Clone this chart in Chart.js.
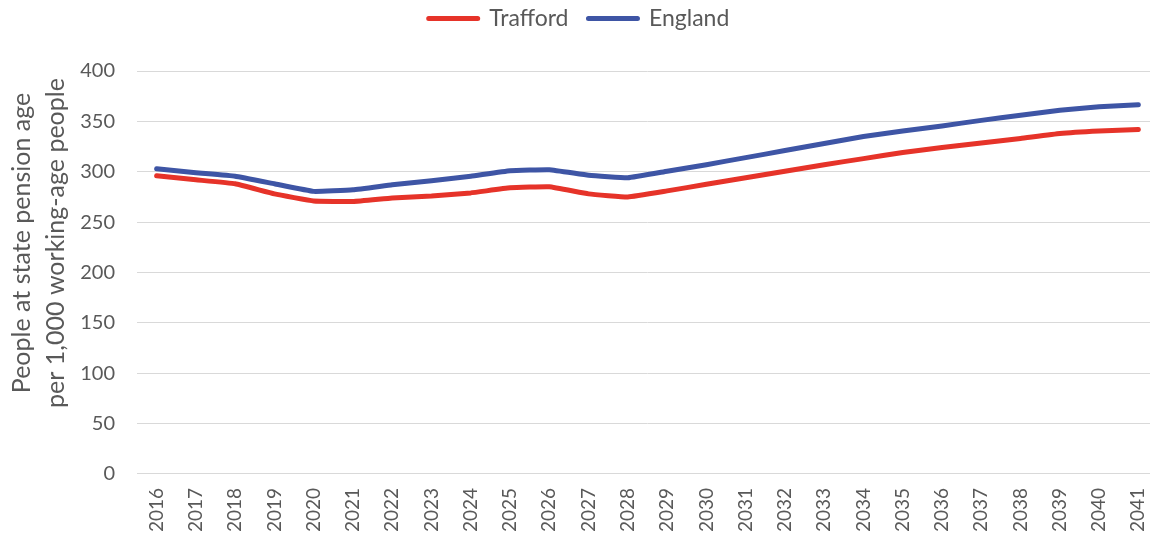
<!DOCTYPE html>
<html>
<head>
<meta charset="utf-8">
<script src="https://cdn.jsdelivr.net/npm/chart.js@4/dist/chart.umd.min.js"></script>
<style>
  html, body { margin: 0; padding: 0; background: #fff; overflow: hidden; }
  #wrap { width: 1167px; height: 540px; position: relative; }
</style>
</head>
<body>
<div id="wrap"><canvas id="ratioChart"></canvas></div>
<script>
const years = ['2016', '2017', '2018', '2019', '2020', '2021', '2022', '2023', '2024', '2025', '2026',
    '2027', '2028', '2029', '2030', '2031', '2032', '2033', '2034', '2035', '2036', '2037', '2038',
    '2039', '2040', '2041'];

const trafford = [296, 292, 288, 278, 271, 270.5, 274, 276, 279, 284, 285, 278, 275, 281, 287.5,
    294, 300.5, 307, 313, 319, 324, 328.5, 333, 338, 340.5, 342];

const england = [303, 299, 295.5, 288, 280.5, 282, 287, 291, 295.5, 301, 302, 296.5, 294, 300.5,
    307, 314, 321, 328, 335, 340.5, 345.5, 351, 356, 361, 364.5, 366.5];

const yTitleLines = ['People at state pension age', 'per 1,000 working-age people'];

const FONT = 'Lato, sans-serif';
const GREY_TEXT = '#595959';

// two-line rotated axis title, drawn by hand so it can sit where we want it
const yTitlePlugin = {
    id: 'yTitle',
    afterDraw(chart) {
        const ctx = chart.ctx;
        ctx.save();
        ctx.fillStyle = GREY_TEXT;
        ctx.font = '25px ' + FONT;
        ctx.textAlign = 'center';
        ctx.textBaseline = 'middle';
        const cy = 243;
        [22, 56].forEach((x, i) => {
            ctx.save();
            ctx.translate(x, cy);
            ctx.rotate(-Math.PI / 2);
            ctx.fillText(yTitleLines[i], 0, 0);
            ctx.restore();
        });
        ctx.restore();
    }
};

// leave some room between the legend and the plot
const legendGap = {
    id: 'legendGap',
    beforeInit(chart) {
        const fit = chart.legend.fit;
        chart.legend.fit = function () {
            fit.bind(chart.legend)();
            this.height += 31;
        };
    }
};

const makeSeries = (label, values, colour) => ({
    label: label,
    data: values,
    borderColor: colour,
    backgroundColor: colour,
    borderWidth: 5,
    borderCapStyle: 'round',
    borderJoinStyle: 'round',
    pointRadius: 0,
    pointHoverRadius: 0,
    fill: false,
    tension: 0.1
});

const ctx = document.getElementById('ratioChart');
new Chart(ctx, {
    type: 'line',
    data: {
        labels: years,
        datasets: [
            makeSeries('Trafford', trafford, '#E63329'),
            makeSeries('England', england, '#3E55A5')
        ]
    },
    options: {
        responsive: true,
        maintainAspectRatio: false,
        animation: false,
        layout: {
            padding: { left: 0, right: 9, top: -13, bottom: -6 }
        },
        plugins: {
            legend: {
                position: 'top',
                labels: {
                    color: GREY_TEXT,
                    font: { family: FONT, size: 23 },
                    boxWidth: 49,
                    boxHeight: 0,
                    padding: 20
                }
            },
            tooltip: { enabled: false }
        },
        scales: {
            x: {
                offset: true,
                afterFit: (scale) => {
                    scale.paddingLeft = 0;
                    scale.paddingRight = 0;
                },
                grid: {
                    display: false,
                    drawTicks: false
                },
                border: { display: true, color: '#D9D9D9', width: 1 },
                ticks: {
                    color: GREY_TEXT,
                    font: { family: FONT, size: 19 },
                    minRotation: 90,
                    maxRotation: 90,
                    autoSkip: false,
                    padding: 14
                }
            },
            y: {
                min: 0,
                max: 400,
                afterFit: (scale) => { scale.width = 137; },
                grid: {
                    color: '#D9D9D9',
                    lineWidth: 1,
                    drawTicks: false
                },
                border: { display: false },
                ticks: {
                    stepSize: 50,
                    color: GREY_TEXT,
                    font: { family: FONT, size: 20 },
                    padding: 22
                }
            }
        }
    },
    plugins: [yTitlePlugin, legendGap]
});
</script>
</body>
</html>
